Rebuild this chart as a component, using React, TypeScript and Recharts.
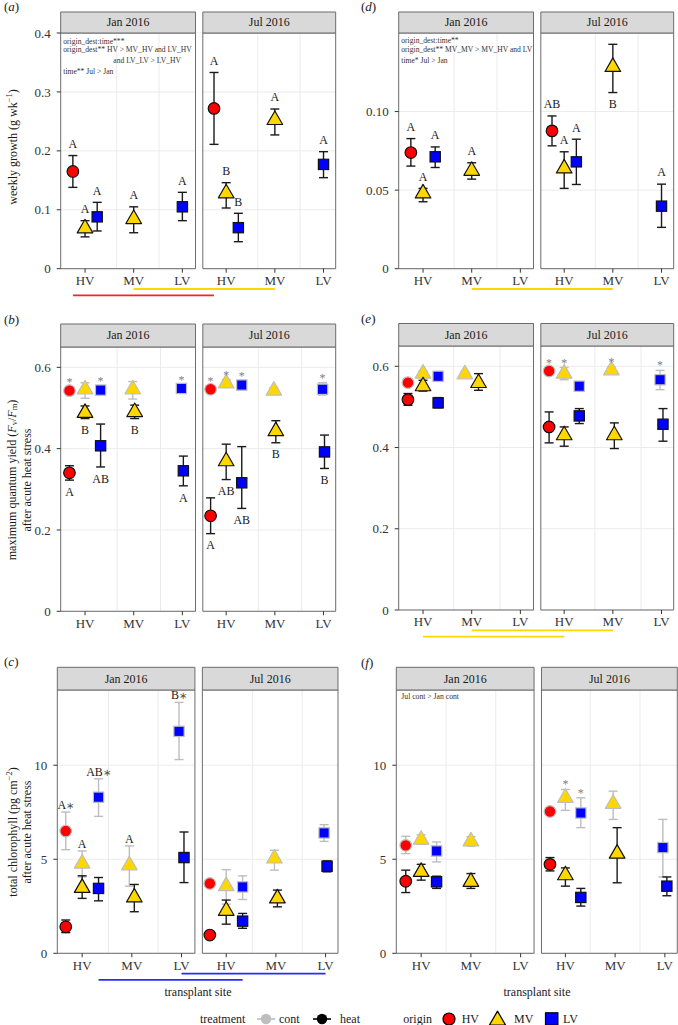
import React from "react";
import {
  ScatterChart, Scatter, XAxis, YAxis, CartesianGrid, ErrorBar, ReferenceArea, ReferenceLine,
} from "recharts";

const FONT = "'Liberation Serif', 'Times New Roman', serif";

const SITES = ["HV", "MV", "LV"];
const ORIGINS = ["HV", "MV", "LV"];
const MONTHS = ["Jan", "Jul"];
const MONTH_LABELS = ["Jan 2016", "Jul 2016"];
const ORIGIN_FILL: Record<string, string> = { HV: "#ff0000", MV: "#ffd700", LV: "#0000ff" };
const TREAT_STROKE: Record<string, string> = { cont: "#bebebe", heat: "#111111", all: "#111111" };
const TREAT_BAR: Record<string, string> = { cont: "#bdbdbd", heat: "#1a1a1a", all: "#1a1a1a" };

// site units: Jan sites sit at 1..3, Jul sites are shifted right by JUL_SHIFT
const JUL_SHIFT = 2.9;
const X_DOMAIN = [0.5, 6.15];
const FACETS = [[0.5, 3.27], [3.42, 6.15]];
const X_TICKS = MONTHS.flatMap((_, mi) => SITES.map((__, si) => si + 1 + mi * JUL_SHIFT));

// [month, site, origin, treatment, mean, lower, upper, mark, mark below]
type Row = [string, string, string, string, number, number, number, string?, number?];

const growthA: Row[] = [
  ["Jan", "HV", "HV", "all", 0.165, 0.138, 0.192, "A"],
  ["Jan", "HV", "MV", "all", 0.0685, 0.054, 0.0815, "A"],
  ["Jan", "HV", "LV", "all", 0.088, 0.064, 0.1126, "A"],
  ["Jan", "MV", "MV", "all", 0.0843, 0.061, 0.105, "A"],
  ["Jan", "LV", "LV", "all", 0.105, 0.0815, 0.1296, "A"],
  ["Jul", "HV", "HV", "all", 0.272, 0.211, 0.333, "A"],
  ["Jul", "HV", "MV", "all", 0.128, 0.103, 0.146, "B"],
  ["Jul", "HV", "LV", "all", 0.0696, 0.0458, 0.094, "B"],
  ["Jul", "MV", "MV", "all", 0.2524, 0.227, 0.271, "A"],
  ["Jul", "LV", "LV", "all", 0.177, 0.1545, 0.1986, "A"],
];

const growthD: Row[] = [
  ["Jan", "HV", "HV", "all", 0.0739, 0.0653, 0.0828, "A"],
  ["Jan", "HV", "MV", "all", 0.0479, 0.0426, 0.0511, "A"],
  ["Jan", "HV", "LV", "all", 0.0712, 0.0644, 0.0775, "A"],
  ["Jan", "MV", "MV", "all", 0.0623, 0.057, 0.0674, "A"],
  ["Jul", "HV", "HV", "all", 0.0877, 0.0782, 0.0972, "AB"],
  ["Jul", "HV", "MV", "all", 0.0638, 0.0511, 0.0744, "A"],
  ["Jul", "HV", "LV", "all", 0.068, 0.0536, 0.0824, "A"],
  ["Jul", "MV", "MV", "all", 0.1284, 0.1121, 0.1428, "B", 1],
  ["Jul", "LV", "LV", "all", 0.0398, 0.0263, 0.0538, "A"],
];

const yieldB: Row[] = [
  ["Jan", "HV", "HV", "cont", 0.5426, 0.534, 0.551, "*"],
  ["Jan", "HV", "MV", "cont", 0.546, 0.524, 0.562],
  ["Jan", "HV", "LV", "cont", 0.544, 0.534, 0.554, "*"],
  ["Jan", "MV", "MV", "cont", 0.546, 0.522, 0.565],
  ["Jan", "LV", "LV", "cont", 0.548, 0.539, 0.557, "*"],
  ["Jul", "HV", "HV", "cont", 0.546, 0.539, 0.553, "*"],
  ["Jul", "HV", "MV", "cont", 0.5606, 0.551, 0.57, "*"],
  ["Jul", "HV", "LV", "cont", 0.5565, 0.547, 0.566, "*"],
  ["Jul", "MV", "MV", "cont", 0.5426, 0.535, 0.55],
  ["Jul", "LV", "LV", "cont", 0.546, 0.532, 0.562, "*"],
  ["Jan", "HV", "HV", "heat", 0.3406, 0.3226, 0.358, "A", 1],
  ["Jan", "HV", "MV", "heat", 0.488, 0.474, 0.505, "B", 1],
  ["Jan", "HV", "LV", "heat", 0.407, 0.355, 0.4605, "AB", 1],
  ["Jan", "MV", "MV", "heat", 0.49, 0.474, 0.507, "B", 1],
  ["Jan", "LV", "LV", "heat", 0.3455, 0.3086, 0.3817, "A", 1],
  ["Jul", "HV", "HV", "heat", 0.2348, 0.191, 0.279, "A", 1],
  ["Jul", "HV", "MV", "heat", 0.369, 0.324, 0.411, "AB", 1],
  ["Jul", "HV", "LV", "heat", 0.316, 0.253, 0.405, "AB", 1],
  ["Jul", "MV", "MV", "heat", 0.443, 0.4145, 0.4687, "B", 1],
  ["Jul", "LV", "LV", "heat", 0.392, 0.3513, 0.4334, "B", 1],
];

const yieldE: Row[] = [
  ["Jan", "HV", "HV", "cont", 0.5598, 0.552, 0.567],
  ["Jan", "HV", "MV", "cont", 0.582, 0.575, 0.589],
  ["Jan", "HV", "LV", "cont", 0.5754, 0.568, 0.582],
  ["Jan", "MV", "MV", "cont", 0.5803, 0.574, 0.587],
  ["Jul", "HV", "HV", "cont", 0.5885, 0.58, 0.597, "*"],
  ["Jul", "HV", "MV", "cont", 0.582, 0.567, 0.597, "*"],
  ["Jul", "HV", "LV", "cont", 0.551, 0.543, 0.559],
  ["Jul", "MV", "MV", "cont", 0.5902, 0.583, 0.598, "*"],
  ["Jul", "LV", "LV", "cont", 0.567, 0.5426, 0.59, "*"],
  ["Jan", "HV", "HV", "heat", 0.518, 0.504, 0.533],
  ["Jan", "HV", "MV", "heat", 0.551, 0.539, 0.5656],
  ["Jan", "HV", "LV", "heat", 0.51, 0.498, 0.523],
  ["Jan", "MV", "MV", "heat", 0.559, 0.541, 0.582],
  ["Jul", "HV", "HV", "heat", 0.4508, 0.4115, 0.4877],
  ["Jul", "HV", "MV", "heat", 0.4303, 0.4033, 0.4508],
  ["Jul", "HV", "LV", "heat", 0.4779, 0.459, 0.4959],
  ["Jul", "MV", "MV", "heat", 0.4303, 0.3975, 0.4607],
  ["Jul", "LV", "LV", "heat", 0.4574, 0.4156, 0.4959],
];

const chlC: Row[] = [
  ["Jan", "HV", "HV", "cont", 6.5, 5.51, 7.51, "A*"],
  ["Jan", "HV", "MV", "cont", 4.77, 4.06, 5.44, "A"],
  ["Jan", "HV", "LV", "cont", 8.3, 7.28, 9.28, "AB*"],
  ["Jan", "MV", "MV", "cont", 4.68, 3.57, 5.71, "A"],
  ["Jan", "LV", "LV", "cont", 11.8, 10.3, 13.34, "B*"],
  ["Jul", "HV", "HV", "cont", 3.71, 3.55, 3.87],
  ["Jul", "HV", "MV", "cont", 3.57, 2.61, 4.45],
  ["Jul", "HV", "LV", "cont", 3.53, 2.86, 4.12],
  ["Jul", "MV", "MV", "cont", 5.04, 4.42, 5.48],
  ["Jul", "LV", "LV", "cont", 6.4, 5.95, 6.84],
  ["Jan", "HV", "HV", "heat", 1.41, 1.1, 1.77],
  ["Jan", "HV", "MV", "heat", 3.48, 2.92, 4.12],
  ["Jan", "HV", "LV", "heat", 3.45, 2.79, 4.03],
  ["Jan", "MV", "MV", "heat", 2.97, 2.21, 3.66],
  ["Jan", "LV", "LV", "heat", 5.09, 3.76, 6.45],
  ["Jul", "HV", "HV", "heat", 0.97, 0.85, 1.09],
  ["Jul", "HV", "MV", "heat", 2.26, 1.55, 2.83],
  ["Jul", "HV", "LV", "heat", 1.71, 1.33, 2.12],
  ["Jul", "MV", "MV", "heat", 2.92, 2.47, 3.36],
  ["Jul", "LV", "LV", "heat", 4.63, 4.33, 4.91],
];

const chlF: Row[] = [
  ["Jan", "HV", "HV", "cont", 5.74, 5.3, 6.22],
  ["Jan", "HV", "MV", "cont", 6.04, 5.8, 6.3],
  ["Jan", "HV", "LV", "cont", 5.44, 4.86, 5.92],
  ["Jan", "MV", "MV", "cont", 5.95, 5.7, 6.2],
  ["Jul", "HV", "HV", "cont", 7.54, 7.35, 7.72],
  ["Jul", "HV", "MV", "cont", 8.27, 7.6, 8.71, "*"],
  ["Jul", "HV", "LV", "cont", 7.46, 6.68, 8.27, "*"],
  ["Jul", "MV", "MV", "cont", 7.95, 7.12, 8.62],
  ["Jul", "LV", "LV", "cont", 5.62, 4.06, 7.12],
  ["Jan", "HV", "HV", "heat", 3.83, 3.23, 4.42],
  ["Jan", "HV", "MV", "heat", 4.33, 3.89, 4.73],
  ["Jan", "HV", "LV", "heat", 3.8, 3.45, 4.1],
  ["Jan", "MV", "MV", "heat", 3.8, 3.45, 4.24],
  ["Jul", "HV", "HV", "heat", 4.73, 4.38, 5.09],
  ["Jul", "HV", "MV", "heat", 4.15, 3.57, 4.54],
  ["Jul", "HV", "LV", "heat", 2.97, 2.51, 3.45],
  ["Jul", "MV", "MV", "heat", 5.3, 3.75, 6.68],
  ["Jul", "LV", "LV", "heat", 3.57, 3.06, 4.06],
];

const growthTicks = [0, 0.1, 0.2, 0.3, 0.4];
const growthTickLabels = ["0", "0.1", "0.2", "0.3", "0.4"];
const growthDTicks = [0, 0.05, 0.1];
const growthDTickLabels = ["0", "0.05", "0.10"];
const yieldTicks = [0, 0.2, 0.4, 0.6];
const yieldTickLabels = ["0", "0.2", "0.4", "0.6"];
const chlTicks = [0, 5, 10];
const chlTickLabels = ["0", "5", "10"];

type Sig = { color: string; from: string[]; to: string[]; level: number };
type PanelCfg = {
  rows: Row[]; left: number; plotLeft: number; plotTop: number; plotW: number; plotH: number;
  stripH: number; yMax: number; yTicks: number[]; yLabels: string[]; grid: number[];
  oDodge: number; tDodge: number[]; lblGap: number; sig: Sig[];
};

function xPos(cfg: PanelCfg, month: string, site: string, origin: string, treat: string) {
  const mi = MONTHS.indexOf(month);
  let x = SITES.indexOf(site) + 1 + mi * JUL_SHIFT;
  if (site === "HV") x += cfg.oDodge * (ORIGINS.indexOf(origin) - 1);
  else if (treat !== "all") x += (treat === "cont" ? -1 : 1) * cfg.tDodge[mi];
  return x;
}

function Marker({ origin, cx, cy, stroke, u = 5.8, sw = 1.2 }: any) {
  const fill = ORIGIN_FILL[origin];
  if (origin === "HV") return <circle cx={cx} cy={cy} r={u} fill={fill} stroke={stroke} strokeWidth={sw} />;
  if (origin === "MV") {
    const pts = `${cx},${cy - 1.555 * u} ${cx + 1.347 * u},${cy + 0.778 * u} ${cx - 1.347 * u},${cy + 0.778 * u}`;
    return <polygon points={pts} fill={fill} stroke={stroke} strokeWidth={sw} strokeLinejoin="round" />;
  }
  const h = 0.886 * u;
  return <rect x={cx - h} y={cy - h} width={2 * h} height={2 * h} fill={fill} stroke={stroke} strokeWidth={sw} />;
}

const pointShape = (props: any) => {
  const { cx, cy, payload } = props;
  if (cx == null || cy == null) return <g />;
  return <Marker origin={payload.origin} cx={cx} cy={cy} stroke={TREAT_STROKE[payload.treat]} />;
};

const blankShape = () => <g />;

const markShape = (props: any) => {
  const { cx, cy, payload } = props;
  if (cx == null || cy == null) return <g />;
  const text: string = payload.text;
  if (text === "*") {
    return <text x={cx} y={cy - 1} textAnchor="middle" fontSize={12} fontFamily={FONT} fill="#7f7f7f">*</text>;
  }
  const letters = text.replace("*", "");
  const star = text.endsWith("*");
  const y = payload.below ? cy + 15.7 : cy - payload.gap;
  return (
    <text x={cx} y={y} textAnchor="middle" fontSize={12} fontFamily={FONT} fill="#1a1a1a">
      {letters}{star ? <tspan fill="#555" fontSize={10}>∗</tspan> : null}
    </text>
  );
};

// strip caption drawn in the middle of the strip rectangle Recharts hands over
const stripLabel = (text: string) => (p: any) => {
  const vb = p.viewBox || {};
  return (
    <text
      x={vb.x + vb.width / 2} y={vb.y + vb.height / 2} textAnchor="middle" dominantBaseline="central"
      fontSize={12} fontFamily={FONT} fill="#1a1a1a" stroke="none"
    >
      {text}
    </text>
  );
};

function Panel({ cfg }: { cfg: PanelCfg }) {
  const TOP = 26;
  const BOTTOM = 40;
  const axisW = cfg.plotLeft - cfg.left;
  const width = axisW + cfg.plotW + 3;
  const height = TOP + cfg.plotH + BOTTOM;
  const perPx = cfg.yMax / cfg.plotH;
  const treats = ["cont", "heat", "all"].filter((t) => cfg.rows.some((r) => r[3] === t));
  const toPt = (r: Row) => ({
    x: xPos(cfg, r[0], r[1], r[2], r[3]), y: r[4], err: [r[4] - r[5], r[6] - r[4]], origin: r[2], treat: r[3],
  });
  const marks = cfg.rows.filter((r) => r[7]).map((r) => ({
    x: xPos(cfg, r[0], r[1], r[2], r[3]), y: r[8] ? r[5] : r[6], text: r[7], below: !!r[8], gap: cfg.lblGap,
  }));
  const gridXs = MONTHS.flatMap((_, mi) => cfg.grid.map((g) => g + mi * JUL_SHIFT));
  const tickStyle = { fontSize: 13, fill: "#333", fontFamily: FONT };
  return (
    <div style={{ position: "absolute", left: cfg.left, top: cfg.plotTop - TOP }}>
      <ScatterChart width={width} height={height} margin={{ top: TOP, right: 3, bottom: 10, left: 0 }}>
        <CartesianGrid horizontalValues={cfg.yTicks} verticalValues={gridXs} stroke="#ebebeb" strokeWidth={1} />
        <XAxis
          type="number" dataKey="x" domain={X_DOMAIN} allowDataOverflow ticks={X_TICKS} interval={0}
          tickFormatter={(v: number) => SITES[X_TICKS.findIndex((t) => Math.abs(t - v) < 1e-6) % 3]}
          axisLine={false} tickSize={4} tickMargin={3} height={30} tick={tickStyle} tickLine={{ stroke: "#333" }}
        />
        <YAxis
          type="number" dataKey="y" domain={[0, cfg.yMax]} allowDataOverflow ticks={cfg.yTicks} interval={0}
          tickFormatter={(v: number) => cfg.yLabels[cfg.yTicks.findIndex((t) => Math.abs(t - v) < 1e-9)]}
          width={axisW} axisLine={false} tickSize={4} tickMargin={6} tick={tickStyle} tickLine={{ stroke: "#333" }}
        />
        <ReferenceArea
          x1={FACETS[0][1]} x2={FACETS[1][0]} y1={0} y2={cfg.yMax} fill="#ffffff" fillOpacity={1}
          stroke="none" ifOverflow="visible"
        />
        {FACETS.map((f, i) => (
          <ReferenceArea
            key={"border" + i} x1={f[0]} x2={f[1]} y1={0} y2={cfg.yMax} fill="none" fillOpacity={0}
            stroke="#6b6b6b" strokeWidth={1} ifOverflow="visible"
          />
        ))}
        {FACETS.map((f, i) => (
          <ReferenceArea
            key={"strip" + i} x1={f[0]} x2={f[1]} y1={cfg.yMax} y2={cfg.yMax + cfg.stripH * perPx}
            fill="#d9d9d9" fillOpacity={1} stroke="#6b6b6b" strokeWidth={1} ifOverflow="visible"
            label={{ content: stripLabel(MONTH_LABELS[i]) }}
          />
        ))}
        {cfg.sig.map((s, i) => {
          const y = -(s.level === 1 ? 20.3 : 26.6) * perPx;
          return (
            <ReferenceLine
              key={"sig" + i} ifOverflow="visible" stroke={s.color} strokeWidth={1.8}
              segment={[
                { x: xPos(cfg, s.from[0], s.from[1], s.from[2], "all"), y },
                { x: xPos(cfg, s.to[0], s.to[1], s.to[2], "all"), y },
              ]}
            />
          );
        })}
        {treats.flatMap((t) => {
          const pts = cfg.rows.filter((r) => r[3] === t).map(toPt);
          return [
            <Scatter key={"pts" + t} data={pts} shape={pointShape} isAnimationActive={false} />,
            <Scatter key={"err" + t} data={pts} shape={blankShape} isAnimationActive={false}>
              <ErrorBar dataKey="err" direction="y" width={4.5} stroke={TREAT_BAR[t]} strokeWidth={1.4} isAnimationActive={false} />
            </Scatter>,
          ];
        })}
        <Scatter data={marks} shape={markShape} isAnimationActive={false} />
      </ScatterChart>
    </div>
  );
}

const panels: PanelCfg[] = [
  {
    rows: growthA, left: 0, plotLeft: 60.7, plotTop: 33, plotW: 275, plotH: 235.7, stripH: 21,
    yMax: 0.4, yTicks: growthTicks, yLabels: growthTickLabels, grid: [1.65, 2.52],
    oDodge: 0.25, tDodge: [0, 0], lblGap: 7.7,
    sig: [
      { color: "#ffd700", from: ["Jan", "MV", "MV"], to: ["Jul", "MV", "MV"], level: 1 },
      { color: "#ff2020", from: ["Jan", "HV", "HV"], to: ["Jul", "HV", "HV"], level: 2 },
    ],
  },
  {
    rows: growthD, left: 338, plotLeft: 398.7, plotTop: 33, plotW: 275, plotH: 235.7, stripH: 21,
    yMax: 0.15, yTicks: growthDTicks, yLabels: growthDTickLabels, grid: [1.64, 2.52],
    oDodge: 0.25, tDodge: [0, 0], lblGap: 7.7,
    sig: [{ color: "#ffd700", from: ["Jan", "MV", "MV"], to: ["Jul", "MV", "MV"], level: 1 }],
  },
  {
    rows: yieldB, left: 0, plotLeft: 60.7, plotTop: 346.7, plotW: 275, plotH: 264.3, stripH: 23,
    yMax: 0.65, yTicks: yieldTicks, yLabels: yieldTickLabels, grid: [1.66, 2.55],
    oDodge: 0.32, tDodge: [0.02, 0.02], lblGap: 7.7, sig: [],
  },
  {
    rows: yieldE, left: 338, plotLeft: 398.7, plotTop: 346, plotW: 275, plotH: 264, stripH: 22.5,
    yMax: 0.65, yTicks: yieldTicks, yLabels: yieldTickLabels, grid: [1.63, 2.58],
    oDodge: 0.31, tDodge: [0.14, 0.03], lblGap: 7.7,
    sig: [
      { color: "#ffd700", from: ["Jan", "MV", "MV"], to: ["Jul", "MV", "MV"], level: 1 },
      { color: "#ffd700", from: ["Jan", "HV", "MV"], to: ["Jul", "HV", "MV"], level: 2 },
    ],
  },
  {
    rows: chlC, left: 0, plotLeft: 57.3, plotTop: 690, plotW: 280.7, plotH: 263.3, stripH: 22.7,
    yMax: 14, yTicks: chlTicks, yLabels: chlTickLabels, grid: [1.53, 2.53],
    oDodge: 0.33, tDodge: [0.05, 0.03], lblGap: 3,
    sig: [
      { color: "#2a2aff", from: ["Jan", "LV", "LV"], to: ["Jul", "LV", "LV"], level: 1 },
      { color: "#2a2aff", from: ["Jan", "HV", "LV"], to: ["Jul", "HV", "LV"], level: 2 },
    ],
  },
  {
    rows: chlF, left: 338, plotLeft: 396.3, plotTop: 690, plotW: 281, plotH: 263.3, stripH: 22.7,
    yMax: 14, yTicks: chlTicks, yLabels: chlTickLabels, grid: [1.5, 2.5],
    oDodge: 0.31, tDodge: [0, 0.04], lblGap: 7.7, sig: [],
  },
];

const sup = (s: string, fs = 8.5) => [
  <tspan key="s" dy={-4.5} fontSize={fs}>{s}</tspan>,
  <tspan key="r" dy={4.5}>)</tspan>,
];

function Overlay() {
  const t = { fontSize: 12, fill: "#1a1a1a", textAnchor: "middle" as const, dominantBaseline: "central" as const };
  const note = { fontSize: 7.6, fill: "#333" };
  const tag = (x: number, y: number, l: string) => (
    <text x={x} y={y} fontSize={13} fill="#1a1a1a">(<tspan fontStyle="italic">{l}</tspan>)</text>
  );
  return (
    <svg
      width={678} height={1025} fontFamily={FONT}
      style={{ position: "absolute", left: 0, top: 0, pointerEvents: "none" }}
    >
      {tag(4, 10.5, "a")}{tag(361, 10.5, "d")}
      {tag(4, 324, "b")}{tag(361, 322.5, "e")}
      {tag(4, 666, "c")}{tag(361, 667, "f")}

      <text x={13.3} y={147} transform="rotate(-90 13.3 147)" {...t}>weekly growth (g wk{sup("−1")}</text>
      <text x={11.7} y={480} transform="rotate(-90 11.7 480)" {...t}>
        maximum quantum yield (<tspan fontStyle="italic">F</tspan><tspan fontSize={8.5} dy={2.5}>v</tspan>
        <tspan dy={-2.5}>/</tspan><tspan fontStyle="italic">F</tspan><tspan fontSize={8.5} dy={2.5}>m</tspan>
        <tspan dy={-2.5}>)</tspan>
      </text>
      <text x={26.7} y={480} transform="rotate(-90 26.7 480)" {...t}>after acute heat stress</text>
      <text x={13.3} y={832} transform="rotate(-90 13.3 832)" {...t}>total chlorophyll (pg cm{sup("−2")}</text>
      <text x={27.3} y={832} transform="rotate(-90 27.3 832)" {...t}>after acute heat stress</text>

      <text x={63.3} y={43.5} {...note}>origin_dest:time***</text>
      <text x={63.3} y={52} {...note}>origin_dest** HV &gt; MV_HV and LV_HV</text>
      <text x={113.3} y={62.8} {...note}>and LV_LV &gt; LV_HV</text>
      <text x={63.3} y={73.5} {...note}>time** Jul &gt; Jan</text>
      <text x={401.3} y={43} {...note}>origin_dest:time**</text>
      <text x={401.3} y={52} {...note}>origin_dest** MV_MV &gt; MV_HV and LV</text>
      <text x={401.3} y={62.5} {...note}>time* Jul &gt; Jan</text>
      <text x={401.3} y={699} fontSize={7.7} fill="#333">Jul cont &gt; Jan cont</text>

      <text x={198} y={992} {...t}>transplant site</text>
      <text x={537} y={992} {...t}>transplant site</text>

      <text x={200} y={1019} {...t} textAnchor="start">treatment</text>
      <line x1={257} x2={275} y1={1019} y2={1019} stroke="#bebebe" strokeWidth={1.6} />
      <circle cx={266} cy={1019} r={5.2} fill="#bebebe" />
      <text x={279} y={1019} {...t} textAnchor="start">cont</text>
      <line x1={313} x2={331} y1={1019} y2={1019} stroke="#000" strokeWidth={1.6} />
      <circle cx={322} cy={1019} r={5.2} fill="#000" />
      <text x={340} y={1019} {...t} textAnchor="start">heat</text>
      <text x={403.3} y={1019} {...t} textAnchor="start">origin</text>
      <Marker origin="HV" cx={449} cy={1019} stroke="#000" u={6} />
      <text x={461.7} y={1019} {...t} textAnchor="start">HV</text>
      <Marker origin="MV" cx={497.5} cy={1020.5} stroke="#000" u={6} />
      <text x={514} y={1019} {...t} textAnchor="start">MV</text>
      <Marker origin="LV" cx={551.7} cy={1019} stroke="#000" u={7} />
      <text x={563} y={1019} {...t} textAnchor="start">LV</text>
    </svg>
  );
}

export default function App() {
  return (
    <div style={{ position: "absolute", left: 0, top: 0, width: 678, height: 1025, background: "#fff", fontFamily: FONT }}>
      {panels.map((p, i) => <Panel key={i} cfg={p} />)}
      <Overlay />
    </div>
  );
}
